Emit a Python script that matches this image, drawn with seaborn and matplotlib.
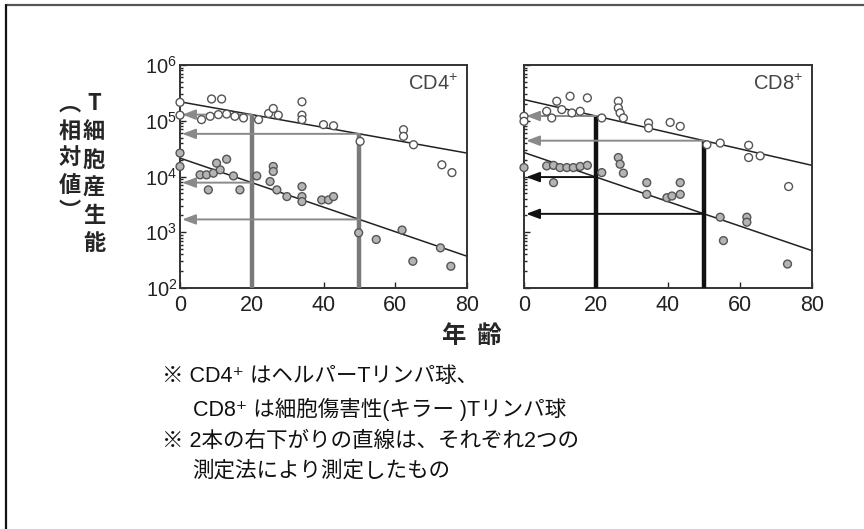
import numpy as np
import pandas as pd
import seaborn as sns
import matplotlib.pyplot as plt
from matplotlib.lines import Line2D

# ---- data (ages, log10 of relative T cell production) ----
x_ticks = [0, 20, 40, 60, 80]
y_ticks = [1e2, 1e3, 1e4, 1e5, 1e6]
y_tick_labels = ["10$^{2}$", "10$^{3}$", "10$^{4}$", "10$^{5}$", "10$^{6}$"]
marked_ages = [20, 50]

cd4_upper_age = [0, 0, 8.8, 11.6, 6, 8.4, 10.7, 13, 15.3, 17.7, 21.9, 24.7, 26, 27.4,
                 34, 34, 34, 40, 42.8, 50.2, 62.3, 62.3, 65.1, 73, 75.8]
cd4_upper_log = [5.33, 5.10, 5.39, 5.39, 5.02, 5.08, 5.11, 5.12, 5.08, 5.05, 5.02, 5.13, 5.22, 5.10,
                 5.34, 5.10, 5.02, 4.93, 4.91, 4.63, 4.84, 4.72, 4.57, 4.21, 4.07]
cd4_lower_age = [0, 0, 5.6, 7.4, 9.3, 11.2, 10.2, 13, 7.9, 14.9, 16.7, 21.4, 25.1, 26, 26, 27,
                 29.8, 34, 34, 34, 39.5, 41.4, 42.8, 49.8, 54.7, 61.9, 64.9, 72.6, 75.5]
cd4_lower_log = [4.42, 4.18, 4.03, 4.03, 4.06, 4.12, 4.24, 4.31, 3.76, 4.01, 3.76, 4.01, 3.91, 4.18, 4.09, 3.76,
                 3.64, 3.82, 3.64, 3.55, 3.58, 3.58, 3.64, 2.99, 2.87, 3.04, 2.48, 2.72, 2.39]

cd8_upper_age = [0, 0, 6.3, 7.7, 9.1, 10.5, 12.8, 13.3, 15.6, 17.6, 21.6, 26.2, 26.2, 26.7, 27.6,
                 34.6, 34.6, 40.6, 43.4, 50.8, 54.5, 62.4, 62.4, 65.6, 73.5]
cd8_upper_log = [5.08, 4.99, 5.17, 5.05, 5.35, 5.20, 5.44, 5.14, 5.17, 5.41, 5.05, 5.35, 5.23, 5.14, 5.05,
                 4.96, 4.87, 4.97, 4.90, 4.57, 4.60, 4.56, 4.34, 4.37, 3.82]
cd8_lower_age = [0, 6.3, 8.2, 10, 11.9, 13.7, 15.6, 17.6, 8.2, 21.6, 26.2, 26.7, 27.6, 34.1, 34.1,
                 39.7, 41.1, 43.4, 43.4, 54.5, 61.9, 61.9, 55.4, 73.2]
cd8_lower_log = [4.16, 4.19, 4.20, 4.16, 4.16, 4.16, 4.18, 4.20, 3.89, 4.07, 4.34, 4.22, 4.06, 3.89, 3.68,
                 3.62, 3.65, 3.89, 3.68, 3.27, 3.27, 3.18, 2.85, 2.43]

line_ages = [0, 80]
cd4_line_upper = [5.34, 4.42]
cd4_line_lower = [4.33, 2.57]
cd8_line_upper = [5.38, 4.20]
cd8_line_lower = [4.43, 2.67]

notes = ["※ CD4⁺ はヘルパーTリンパ球、",
         "CD8⁺ は細胞傷害性(キラー )Tリンパ球",
         "※ 2本の右下がりの直線は、それぞれ2つの",
         "測定法により測定したもの"]
ylabel_right = "T細胞産生能"
ylabel_left = "︵相対値︶"

sns.set_style("white")
plt.rcParams['font.family'] = ['Liberation Sans', 'Noto Sans CJK JP', 'DejaVu Sans']
plt.rcParams['mathtext.fontset'] = 'custom'
plt.rcParams['mathtext.rm'] = 'Liberation Sans'
plt.rcParams['mathtext.it'] = 'Liberation Sans:italic'
plt.rcParams['mathtext.bf'] = 'Liberation Sans:bold'


def line_at(line, age):
    # value of the straight (log-linear) line at a given age
    return 10 ** np.interp(age, line_ages, line)


def draw_panel(ax, up_age, up_log, lo_age, lo_log, l_up, l_lo, title, vcolor, up_arrow, lo_arrow, show_y):
    df = pd.concat([
        pd.DataFrame({"age": up_age, "val": 10 ** np.array(up_log), "s": "up"}),
        pd.DataFrame({"age": lo_age, "val": 10 ** np.array(lo_log), "s": "lo"}),
    ])
    for line in (l_up, l_lo):
        sns.lineplot(x=line_ages, y=10 ** np.array(line), ax=ax, color="#222222", lw=1.1, zorder=2)

    for a in marked_ages:
        top = line_at(l_up, a)
        ax.vlines(a, 1e2, top, color=vcolor, lw=3.2, zorder=3)
        for line, col in ((l_up, up_arrow), (l_lo, lo_arrow)):
            v = line_at(line, a)
            ax.annotate("", xy=(0.6, v), xytext=(a, v),
                        arrowprops=dict(arrowstyle="-|>,head_length=0.8,head_width=0.3",
                                        color=col, lw=1.4, shrinkA=0, shrinkB=0), zorder=3)

    sns.scatterplot(data=df, x="age", y="val", hue="s", palette={"up": "white", "lo": "#b4b4b4"},
                    edgecolor="#555555", linewidth=1.0, s=32, legend=False, ax=ax, zorder=4, clip_on=False)

    ax.set_yscale("log")
    ax.set_xlim(0, 80)
    ax.set_ylim(1e2, 1e6)
    ax.set_xticks(x_ticks)
    ax.set_xticklabels([str(t) for t in x_ticks], fontsize=15.5, color="#222222")
    ax.set_yticks(y_ticks)
    if show_y:
        ax.set_yticklabels(y_tick_labels, fontsize=14.5, color="#222222")
    else:
        ax.set_yticklabels([])
    ax.tick_params(axis="both", which="both", direction="in", length=4, width=1, pad=2,
                   left=True, bottom=True)
    ax.tick_params(axis="x", pad=5)
    ax.tick_params(axis="y", which="minor", length=2.5)
    ax.set_xlabel("")
    ax.set_ylabel("")
    for sp in ax.spines.values():
        sp.set_color("#333333")
        sp.set_linewidth(1.4)
    ax.text(0.97, 0.96, title, transform=ax.transAxes, ha="right", va="top", fontsize=14.5, color="#444444")


fig = plt.figure(figsize=(8.64, 5.29), dpi=100)
ax1 = fig.add_axes([180 / 864, 1 - 288 / 529, 287 / 864, 223 / 529])
ax2 = fig.add_axes([524 / 864, 1 - 288 / 529, 288 / 864, 223 / 529])

draw_panel(ax1, cd4_upper_age, cd4_upper_log, cd4_lower_age, cd4_lower_log,
           cd4_line_upper, cd4_line_lower, "CD4$^{+}$", "#7a7a7a", "#8a8a8a", "#8a8a8a", True)
draw_panel(ax2, cd8_upper_age, cd8_upper_log, cd8_lower_age, cd8_lower_log,
           cd8_line_upper, cd8_line_lower, "CD8$^{+}$", "#111111", "#8a8a8a", "#111111", False)

# vertical y label, two columns
cjk = ['Noto Sans CJK JP', 'DejaVu Sans']
for i, ch in enumerate(ylabel_right):
    fig.text(94 / 864, 1 - (104 + i * 28) / 529, ch, ha="center", va="center",
             fontsize=16, fontweight="bold", family=cjk)
for i, ch in enumerate(ylabel_left):
    fig.text(70 / 864, 1 - (104 + i * 27) / 529, ch, ha="center", va="center",
             fontsize=16, fontweight="bold", family=cjk)

fig.text(472 / 864, 1 - 336 / 529, "年  齢", ha="center", va="center",
         fontsize=17.5, fontweight="bold", family=cjk)

note_x = [162, 193, 162, 192]
note_y = [376, 409, 441, 471]
for t, x, y in zip(notes, note_x, note_y):
    fig.text(x / 864, 1 - y / 529, t, ha="left", va="center", fontsize=15.5, color="#111111",
             family=['Liberation Sans', 'Noto Sans CJK JP', 'DejaVu Sans'])

# frame of the original slide
fig.add_artist(Line2D([6 / 864, 1], [1 - 5 / 529, 1 - 5 / 529], color="#555555", lw=1.6))
fig.add_artist(Line2D([6 / 864, 6 / 864], [0, 1 - 5 / 529], color="#111111", lw=1.6))

plt.savefig("out.png", dpi=100)
